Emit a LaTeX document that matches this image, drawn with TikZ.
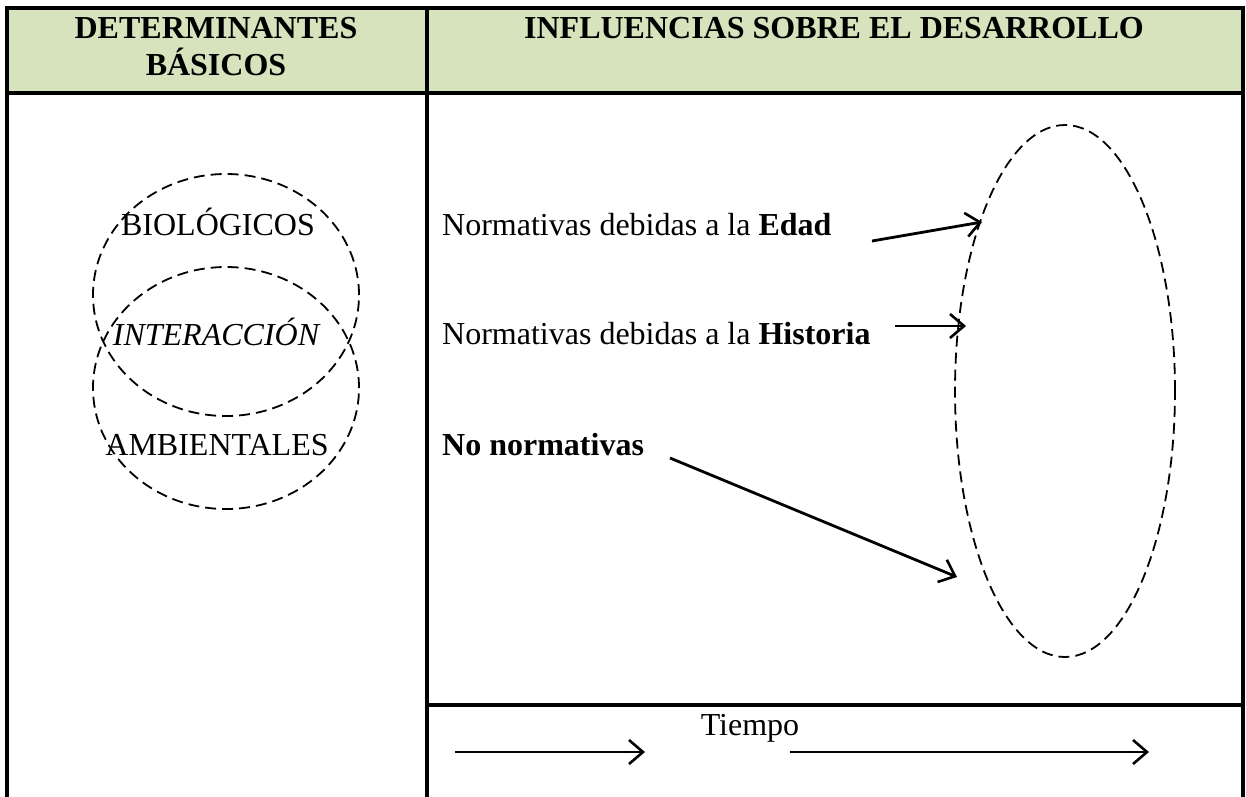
\documentclass[tikz,border=0pt]{standalone}
\usepackage{fontspec}
\setmainfont{Liberation Serif}
\usetikzlibrary{arrows.meta,shapes.geometric}
\definecolor{hdrgreen}{HTML}{D6E3BC}
\tikzset{
  tbl/.style={line width=3.5pt, line cap=rect},
  dashline/.style={draw=black, line width=1.8pt, dash pattern=on 11pt off 6pt},
  arr/.style={line width=2.8pt, -{Straight Barb[length=14pt,width=24pt,line width=2.6pt]}},
  txt/.style={inner sep=0pt, font=\fontsize{32}{38}\selectfont},
  hdr/.style={inner sep=0pt, font=\fontsize{32}{38}\selectfont\bfseries},
}
\begin{document}
\begin{tikzpicture}[x=1pt,y=-1pt]
\useasboundingbox (0,0) rectangle (1246,796);
% header fill
\fill[hdrgreen] (7,8) rectangle (1243,93);
% table lines
\draw[tbl] (7,796) -- (7,8) -- (1243,8) -- (1243,796);
\draw[tbl] (7,93) -- (1243,93);
\draw[tbl] (427,8) -- (427,796);
\draw[tbl] (427,705) -- (1243,705);
% header texts
\node[hdr, anchor=base] (h1a) at (216,38) {DETERMINANTES};
\node[hdr, anchor=base] (h1b) at (216,75) {BÁSICOS};
\node[hdr, anchor=base] (h2) at (834,38) {INFLUENCIAS SOBRE EL DESARROLLO};
% left column circles
\node[dashline, ellipse, minimum width=266pt, minimum height=242pt, inner sep=0pt] (cbio) at (226,295) {};
\node[dashline, ellipse, minimum width=266pt, minimum height=242pt, inner sep=0pt] (camb) at (226,388) {};
\node[txt, anchor=base] (bio) at (218,235) {BIOLÓGICOS};
\node[txt, anchor=base] (inter) at (216,345) {\itshape INTERACCIÓN};
\node[txt, anchor=base] (amb) at (217,455) {AMBIENTALES};
% right column texts
\node[txt, anchor=base west] (edad) at (442,235) {Normativas debidas a la \textbf{Edad}};
\node[txt, anchor=base west] (hist) at (442,344) {Normativas debidas a la \textbf{Historia}};
\node[txt, anchor=base west] (nonorm) at (442,455) {\textbf{No normativas}};
% big ellipse
\node[dashline, ellipse, minimum width=220pt, minimum height=532pt, inner sep=0pt] (ell) at (1065,391) {};
% arrows to the ellipse
\coordinate (edadS) at (872,241);
\coordinate (edadT) at (982,222);
\coordinate (histS) at (895,326);
\coordinate (histT) at (966,326);
\coordinate (nonS) at (670,458);
\coordinate (nonT) at (957,577);
\draw[arr] (edadS) -- (edadT);
\draw[arr] (histS) -- (histT);
\draw[arr] (nonS) -- (nonT);
% time row
\node[txt, anchor=base] (tiempo) at (750,735) {Tiempo};
\coordinate (t1S) at (455,752);
\coordinate (t1T) at (645,752);
\coordinate (t2S) at (790,752);
\coordinate (t2T) at (1149,752);
\draw[arr] (t1S) -- (t1T);
\draw[arr] (t2S) -- (t2T);
\end{tikzpicture}
\end{document}
